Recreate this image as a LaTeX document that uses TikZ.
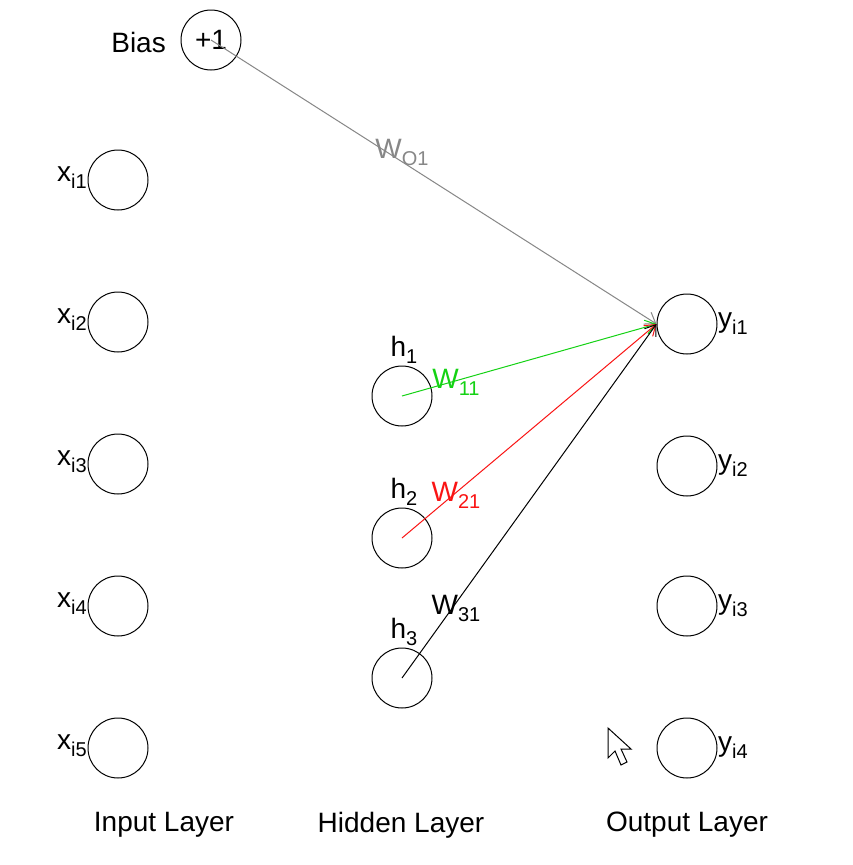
\documentclass[tikz,border=0pt]{standalone}
\usepackage{fontspec}
\setmainfont{Liberation Sans}
\usetikzlibrary{arrows.meta}
\definecolor{wgray}{RGB}{135,135,135}
\definecolor{wgreen}{RGB}{20,210,20}
\definecolor{wred}{RGB}{250,20,20}
\newcommand{\subx}[2]{#1\raisebox{-7pt}{\fontsize{20}{20}\selectfont #2}}
\tikzset{
  neuron/.style={circle, draw=black, line width=1pt, minimum size=60pt, inner sep=0pt},
  txt/.style={font=\fontsize{28}{28}\selectfont, inner sep=0pt},
  conn/.style={line width=1pt, -{Straight Barb[length=10pt,width=14pt,line width=1pt]}},
}
\begin{document}
\begin{tikzpicture}[x=1pt,y=-1pt]
\useasboundingbox[fill=white] (0,0) rectangle (852,865);
% bias
\node[neuron] (bias) at (211,40) {};
\node[txt] (biasplus) at (211,40) {+1};
\node[txt,anchor=east] (biaslbl) at (166,42) {Bias};
% input layer
\foreach \i/\y in {1/180,2/322,3/464,4/606,5/748}{
  \node[neuron] (x\i) at (118,\y) {};
  \node[txt,anchor=east] (xl\i) at (87,\y-2) {\subx{x}{i\i}};
}
% hidden layer
\foreach \i/\y in {1/396,2/538,3/678}{
  \node[neuron] (h\i) at (402,\y) {};
  \node[txt] (hl\i) at (404,\y-46) {\subx{h}{\i}};
}
% output layer
\foreach \i/\y in {1/324,2/466,3/606,4/748}{
  \node[neuron] (y\i) at (687,\y) {};
  \node[txt,anchor=west] (yl\i) at (718,\y) {\subx{y}{i\i}};
}
% connections
\draw[conn, wgray] (biasplus.center) -- (y1.west);
\draw[conn, wgreen] (h1.center) -- (y1.west);
\draw[conn, wred] (h2.center) -- (y1.west);
\draw[conn, black] (h3.center) -- (y1.west);
% weight labels
\node[txt, text=wgray] (w01) at (402,152) {\subx{W}{O1}};
\node[txt, text=wgreen] (w11) at (456,382) {\subx{W}{11}};
\node[txt, text=wred] (w21) at (456,495) {\subx{W}{21}};
\node[txt, text=black] (w31) at (456,608) {\subx{W}{31}};
% layer labels
\node[txt] (lin) at (164,825) {Input Layer};
\node[txt] (lhid) at (401,825) {Hidden Layer};
\node[txt] (lout) at (687,825) {Output Layer};
% mouse cursor
\draw[line width=1pt, fill=white, line join=miter]
  (608,728) -- (608,758) -- (615,751) -- (621,765) -- (627,762) -- (621,749) -- (631,749) -- cycle;
\end{tikzpicture}
\end{document}
